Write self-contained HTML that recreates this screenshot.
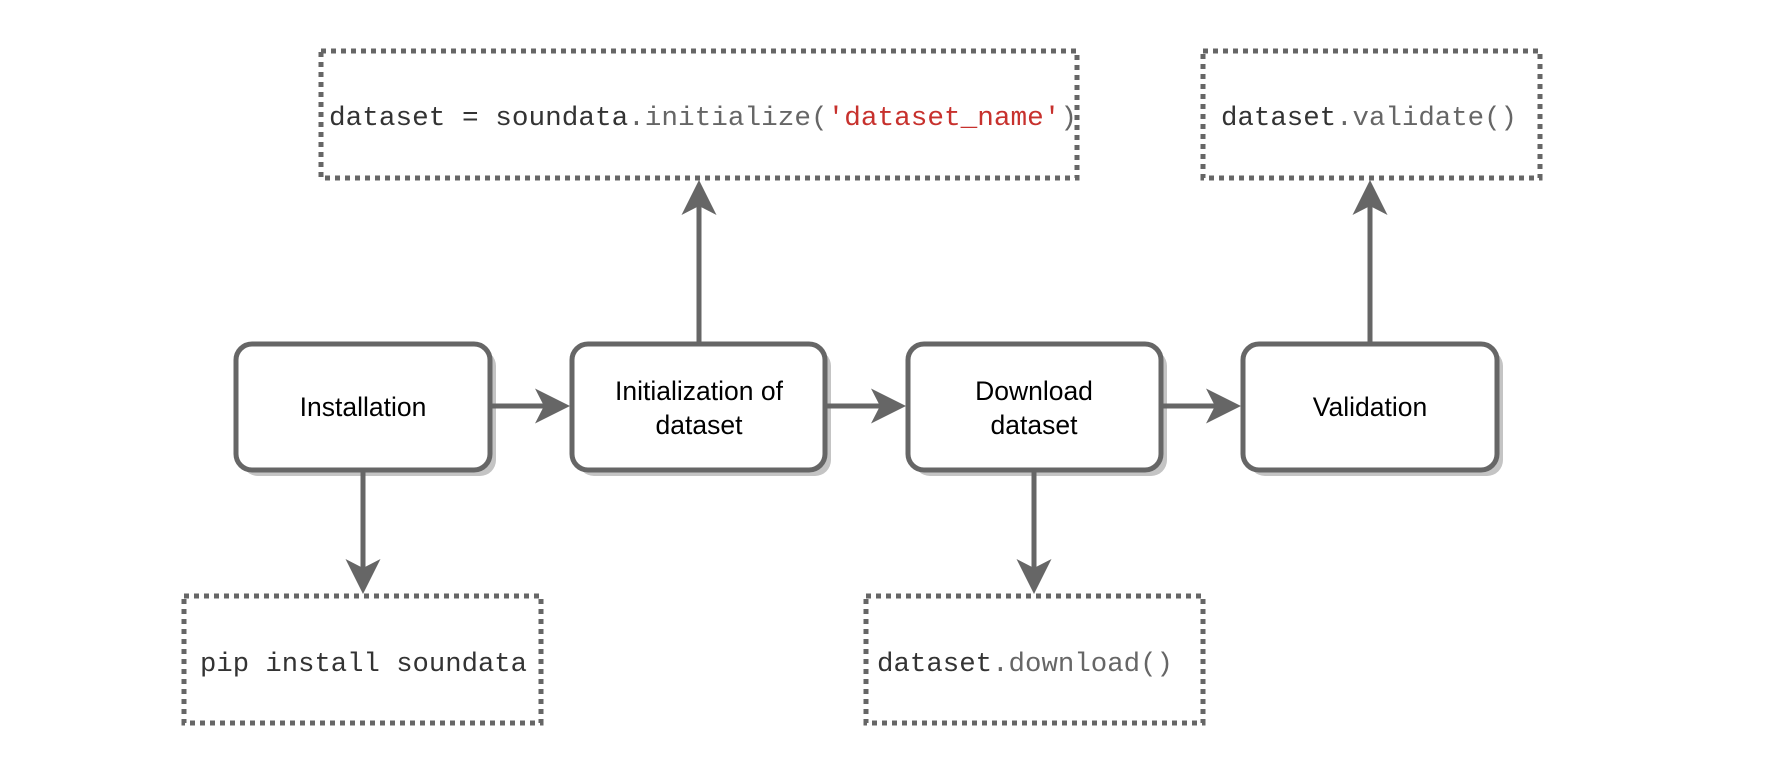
<!DOCTYPE html>
<html><head><meta charset="utf-8"><style>
html,body{margin:0;padding:0;background:#fff;}
svg{display:block}
.n{font-family:"Liberation Sans",sans-serif;font-size:26.5px;fill:#000;text-anchor:middle}
.c{font-family:"Liberation Mono",monospace;font-size:27px;fill:#333}
.g{fill:#666}.r{fill:#c7312d}
</style></head><body>
<svg width="1790" height="780" viewBox="0 0 1790 780" xmlns="http://www.w3.org/2000/svg">
<defs>
<marker id="a" markerWidth="8" markerHeight="8" refX="6" refY="4" orient="auto" markerUnits="strokeWidth">
<path d="M0,0.5 L7,4 L0,7.5 L1.8,4 Z" fill="#666"/></marker>
</defs>
<g fill="none" stroke="#666" stroke-width="5" stroke-dasharray="5 5">
<rect x="321" y="51" width="756" height="127"/>
<rect x="1203" y="51" width="337" height="127"/>
<rect x="184" y="596" width="357" height="127"/>
<rect x="866" y="596" width="337" height="127"/>
</g>
<g fill="#c4c4c4">
<rect x="242" y="350" width="254" height="126" rx="16"/>
<rect x="578" y="350" width="253" height="126" rx="16"/>
<rect x="914" y="350" width="253" height="126" rx="16"/>
<rect x="1249" y="350" width="254" height="126" rx="16"/>
</g>
<g fill="#fff" stroke="#666" stroke-width="5">
<rect x="236" y="344" width="254" height="126" rx="16"/>
<rect x="572" y="344" width="253" height="126" rx="16"/>
<rect x="908" y="344" width="253" height="126" rx="16"/>
<rect x="1243" y="344" width="254" height="126" rx="16"/>
</g>
<g stroke="#666" stroke-width="5" fill="none" marker-end="url(#a)">
<line x1="490" y1="406" x2="565" y2="406"/>
<line x1="825" y1="406" x2="901" y2="406"/>
<line x1="1161" y1="406" x2="1236" y2="406"/>
<line x1="363" y1="470" x2="363" y2="589"/>
<line x1="699" y1="344" x2="699" y2="185"/>
<line x1="1034" y1="470" x2="1034" y2="589"/>
<line x1="1370" y1="344" x2="1370" y2="185"/>
</g>
<text class="n" x="363" y="416">Installation</text>
<text class="n" x="699" y="400">Initialization of</text>
<text class="n" x="699" y="434">dataset</text>
<text class="n" x="1034" y="400">Download</text>
<text class="n" x="1034" y="434">dataset</text>
<text class="n" x="1370" y="416">Validation</text>
<text class="c" x="329" y="125" textLength="748" lengthAdjust="spacingAndGlyphs">dataset = soundata<tspan class="g">.initialize(</tspan><tspan class="r">'dataset_name'</tspan><tspan class="g">)</tspan></text>
<text class="c" x="1221" y="125" textLength="296" lengthAdjust="spacingAndGlyphs">dataset<tspan class="g">.validate()</tspan></text>
<text class="c" x="200" y="671" textLength="327" lengthAdjust="spacingAndGlyphs">pip install soundata</text>
<text class="c" x="877" y="671" textLength="296" lengthAdjust="spacingAndGlyphs">dataset<tspan class="g">.download()</tspan></text>
</svg>
</body></html>
